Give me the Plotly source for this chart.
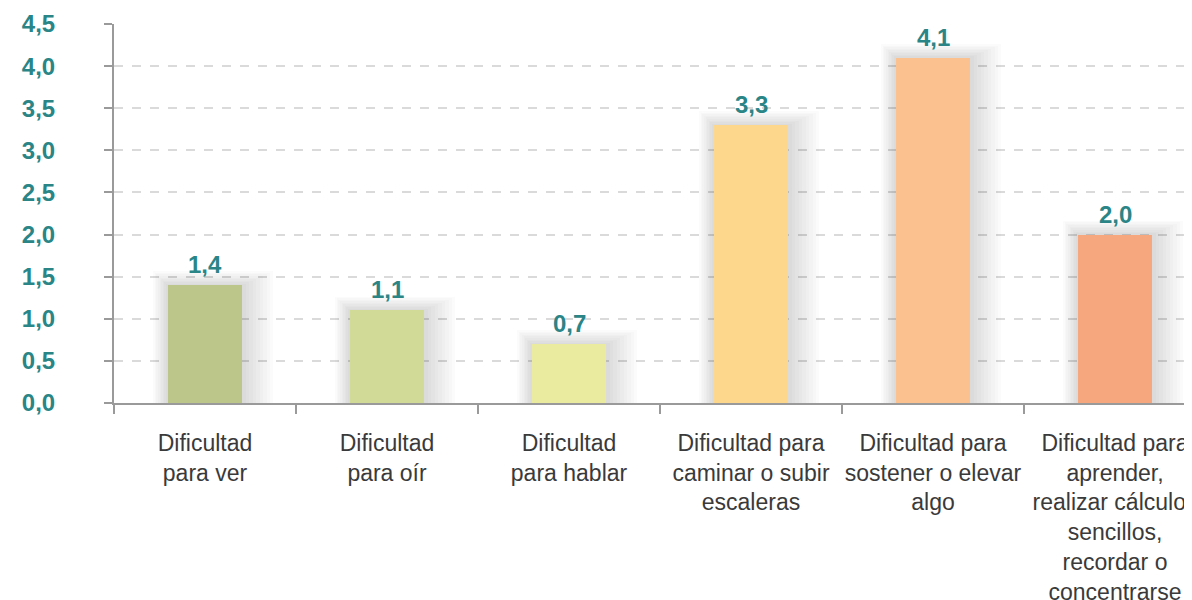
import plotly.graph_objects as go

categories = [
    "Dificultad<br>para ver",
    "Dificultad<br>para oír",
    "Dificultad<br>para hablar",
    "Dificultad para<br>caminar o subir<br>escaleras",
    "Dificultad para<br>sostener o elevar<br>algo",
    "Dificultad para<br>aprender,<br>realizar cálculos<br>sencillos,<br>recordar o<br>concentrarse",
]
values = [1.4, 1.1, 0.7, 3.3, 4.1, 2.0]
bar_colors = ["#BDC68A", "#D1DA97", "#EAEB9E", "#FDD78C", "#FBC290", "#F6A77E"]
y_ticks = [0, 0.5, 1.0, 1.5, 2.0, 2.5, 3.0, 3.5, 4.0, 4.5]

TEAL = "#2A8587"
FONT = "Helvetica Neue, Liberation Sans, Arial, sans-serif"

fig = go.Figure()

# soft shadow layers
N = 9
for k in range(1, N + 1):
    fig.add_trace(go.Bar(
        x=categories, y=[v + 0.018 * k for v in values],
        width=0.41 + 0.028 * k, offset=-0.205 - 0.009 * k,
        marker=dict(color="rgba(70,70,70,0.018)", line=dict(width=0)),
        hoverinfo="skip", showlegend=False,
    ))

fig.add_trace(go.Bar(
    x=categories, y=values, width=0.41,
    marker=dict(color=bar_colors, line=dict(width=0)),
    showlegend=False,
))

for c, v in zip(categories, values):
    fig.add_annotation(
        x=c, y=v, text=f"{v:.1f}".replace(".", ","), showarrow=False,
        yanchor="bottom", yshift=5,
        font=dict(family=FONT, size=24, color=TEAL, weight="bold"),
    )

fig.update_layout(
    width=1192, height=600,
    margin=dict(l=106, r=0, t=16, b=205, autoexpand=False),
    plot_bgcolor="white", paper_bgcolor="white",
    barmode="overlay", separators=",.",
    bargap=0,
)
fig.update_xaxes(
    range=[-0.5, 5.467], showline=True, linecolor="#9A9A9A", linewidth=2,
    ticks="outside", tickson="boundaries", ticklen=9, tickcolor="#9A9A9A", tickwidth=2,
    tickfont=dict(family=FONT, size=23, color="#3A3A3A"), showgrid=False,
    tickangle=0, ticklabelstandoff=18, automargin=False,
)
fig.update_yaxes(
    range=[0, 4.5], tickvals=y_ticks, tickformat=".1f",
    showline=True, linecolor="#9A9A9A", linewidth=2,
    ticks="outside", ticklen=8, tickcolor="#9A9A9A", tickwidth=2,
    tickfont=dict(family=FONT, size=24, color=TEAL, weight="bold"),
    ticklabelstandoff=44, automargin=False,
    showgrid=True, gridcolor="#DADADA", gridwidth=1.5, griddash="dash",
    zeroline=False,
)

fig.write_html("out.html")
